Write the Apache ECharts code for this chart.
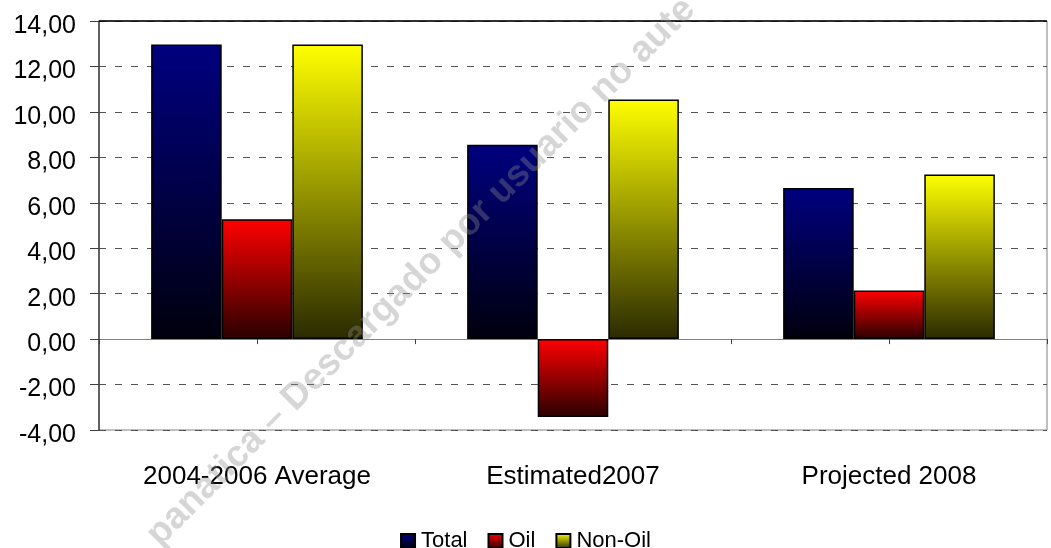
<!DOCTYPE html>
<html>
<head>
<meta charset="utf-8">
<script src="https://cdn.jsdelivr.net/npm/echarts@6/dist/echarts.min.js"></script>
<style>html,body{margin:0;padding:0;background:#fff;}#c{width:1051px;height:548px;}</style>
</head>
<body>
<div id="c"></div>
<script>
const categories = ['2004-2006 Average', 'Estimated2007', 'Projected 2008'];
const totalValues = [12.97, 8.55, 6.65];
const oilValues = [5.27, -3.43, 2.14];
const nonOilValues = [12.97, 10.55, 7.25];
const seriesNames = ['Total', 'Oil', 'Non-Oil'];
const tickSlots = ['', '', '', '', '', ''];
const watermarkPrefix = 'panatica – ';
const watermarkMain = 'Descargado por usuario no aute';

function grad(top, bottom) {
  return new echarts.graphic.LinearGradient(0, 0, 0, 1, [
    { offset: 0, color: top },
    { offset: 1, color: bottom }
  ]);
}
const FONT = 'Liberation Sans, Arial, sans-serif';
const chart = echarts.init(document.getElementById('c'), null, { renderer: 'canvas' });
const barBase = {
  type: 'bar',
  xAxisIndex: 0,
  yAxisIndex: 0,
  barGap: '0%',
  barCategoryGap: '33%',
  emphasis: { disabled: true }
};
chart.setOption({
  animation: false,
  backgroundColor: '#ffffff',
  grid: { left: 99, right: 4, top: 21, bottom: 118, show: true, borderColor: '#808080', borderWidth: 1, backgroundColor: 'transparent' },
  legend: {
    data: seriesNames,
    top: 530,
    left: 'center',
    icon: 'rect',
    itemWidth: 14,
    itemHeight: 14,
    itemGap: 20,
    padding: 0,
    textStyle: { fontFamily: FONT, fontSize: 22, color: '#000', padding: [0, 0, 0, 1] }
  },
  xAxis: [
    {
      type: 'category',
      data: categories,
      position: 'bottom',
      axisLine: { show: false, onZero: false },
      axisTick: { show: false },
      splitLine: { show: false },
      axisLabel: { margin: 34, fontFamily: FONT, fontSize: 26, color: '#000' }
    },
    {
      type: 'category',
      data: tickSlots,
      position: 'bottom',
      axisLine: { show: true, onZero: true, lineStyle: { color: '#808080', width: 1 } },
      axisTick: { show: true, interval: 0, length: 5, lineStyle: { color: '#404040', width: 1 } },
      axisLabel: { show: false },
      splitLine: { show: false }
    }
  ],
  yAxis: {
    type: 'value',
    min: -4,
    max: 14,
    interval: 2,
    axisLine: { show: true, lineStyle: { color: '#404040', width: 1.5 } },
    axisTick: { show: true, length: 9, lineStyle: { color: '#404040', width: 1 } },
    axisLabel: {
      margin: 23,
      fontFamily: FONT,
      fontSize: 25,
      color: '#000',
      verticalAlign: 'top',
      lineHeight: 10,
      formatter: v => v.toFixed(2).replace('.', ',')
    },
    splitLine: { show: true, lineStyle: { color: '#555555', width: 1, type: [7, 9] } }
  },
  series: [
    Object.assign({}, barBase, {
      name: seriesNames[0],
      data: totalValues,
      itemStyle: { color: grad('#000080', '#00000d'), borderColor: '#000', borderWidth: 1.5 },
      markLine: {
        silent: true,
        symbol: 'none',
        label: { show: false },
        lineStyle: { color: '#000', type: 'solid', width: 1.5 },
        data: [{ yAxis: 14 }]
      }
    }),
    Object.assign({}, barBase, {
      name: seriesNames[1],
      data: oilValues,
      itemStyle: { color: grad('#ff0000', '#2a0000'), borderColor: '#000', borderWidth: 1.5 }
    }),
    Object.assign({}, barBase, {
      name: seriesNames[2],
      data: nonOilValues,
      itemStyle: { color: grad('#ffff00', '#2a2a00'), borderColor: '#000', borderWidth: 1.5 }
    })
  ],
  graphic: [
    {
      type: 'text', silent: true, z: 100,
      x: 288, y: 405, rotation: Math.PI / 4,
      style: { text: watermarkPrefix, font: 'bold 37px Liberation Sans, Arial, sans-serif', fill: 'rgba(140,140,140,0.36)', align: 'right', verticalAlign: 'middle' }
    },
    {
      type: 'text', silent: true, z: 100,
      x: 288, y: 405, rotation: Math.PI / 4,
      style: { text: watermarkMain, font: 'bold 37px Liberation Sans, Arial, sans-serif', fill: 'rgba(140,140,140,0.36)', align: 'left', verticalAlign: 'middle' }
    }
  ]
});
</script>
</body>
</html>
